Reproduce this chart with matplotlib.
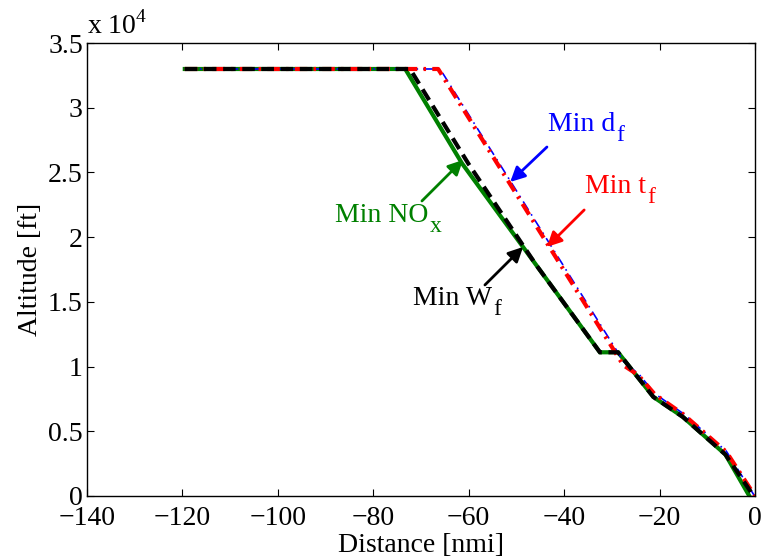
import matplotlib
matplotlib.use('Agg')
import matplotlib.pyplot as plt
from matplotlib.ticker import FuncFormatter

plt.rcParams['font.family'] = 'Liberation Serif'
plt.rcParams['mathtext.fontset'] = 'custom'
plt.rcParams['mathtext.rm'] = 'Liberation Serif'

# trajectories: distance [nmi], altitude [ft]
dist_nox = [-119.5, -73.3, -61.4, -32.5, -28.7, -21.3, -15.1, -6.2, -1.2]
alt_nox = [33000, 33000, 25700, 11100, 11100, 7650, 6100, 3200, 0]

dist_wf = [-119.5, -72.3, -60.1, -46.0, -32.5, -28.7, -21.3, -15.1, -6.2, -0.3]
alt_wf = [33000, 33000, 25700, 17920, 11100, 11100, 7650, 6100, 3200, 0]

dist_tf = [-119.5, -66.4, -27.6, -24.5, -21.0, -15.0, -6.0, 0.0]
alt_tf = [33000, 33000, 10100, 9350, 7850, 6300, 3400, 0]

dist_df = [-119.5, -66.0, -27.4, -24.3, -21.0, -15.0, -6.0, -0.1]
alt_df = [33000, 33000, 10300, 9400, 7900, 6350, 3450, 0]

xticks = [-140, -120, -100, -80, -60, -40, -20, 0]
yticks = [0, 5000, 10000, 15000, 20000, 25000, 30000, 35000]

fig = plt.figure(figsize=(7.63, 5.60), dpi=100)
ax = fig.add_axes([0.114, 0.1145, 0.8755, 0.8085])

ax.plot(dist_nox, alt_nox, color='#008000', lw=3, solid_joinstyle='miter')
ax.plot(dist_df, alt_df, color='blue', lw=1.2, linestyle=(0, (6, 3, 1, 3)))
ax.plot(dist_tf, alt_tf, color='red', lw=3, linestyle=(0, (3, 1.5, 0.6, 1.5)))
ax.plot(dist_wf, alt_wf, color='black', lw=3, linestyle=(0, (3, 1.6)))

fs = 20
ax.set_xlim(-140, 0)
ax.set_ylim(0, 35000)
ax.set_xticks(xticks)
ax.set_yticks(yticks)
ax.yaxis.set_major_formatter(FuncFormatter(lambda v, p: '%g' % (v / 1e4)))
ax.tick_params(direction='in', top=True, right=True, length=5, width=0.8,
               labelsize=fs, pad=3)
ax.tick_params(axis='x', pad=7)
for s in ax.spines.values():
    s.set_linewidth(1.0)

ax.set_xlabel('Distance [nmi]', fontsize=fs, labelpad=1.5)
ax.set_ylabel('Altitude [ft]', fontsize=fs, labelpad=4)
ax.text(0.0, 1.008, r'x 10$^{4}$', transform=ax.transAxes, fontsize=fs,
        ha='left', va='bottom')


def label(x, y, main, sub, color):
    t = ax.text(x, y, main, color=color, fontsize=fs, va='baseline')
    ax.annotate(sub, xy=(1, 0), xycoords=t, xytext=(1, -3),
                textcoords='offset points', color=color, fontsize=fs * 0.85,
                va='baseline')


arrow = dict(arrowstyle='-|>', lw=2, mutation_scale=22, shrinkA=0, shrinkB=0)
ax.annotate('', xy=(-51.3, 24266), xytext=(-43.6, 26970),
            arrowprops=dict(arrow, color='blue'))
label(-43.4, 28207, 'Min d', 'f', 'blue')
ax.annotate('', xy=(-43.6, 19243), xytext=(-35.8, 22102),
            arrowprops=dict(arrow, color='red'))
label(-35.6, 23416, 'Min t', 'f', 'red')
ax.annotate('', xy=(-61.2, 25966), xytext=(-69.8, 22798),
            arrowprops=dict(arrow, color='#008000'))
label(-88.0, 21175, 'Min NO', 'x', '#008000')
ax.annotate('', xy=(-48.6, 19243), xytext=(-56.6, 16306),
            arrowprops=dict(arrow, color='black'))
label(-71.7, 14760, 'Min W', 'f', 'black')

fig.savefig('out.png', dpi=100)
